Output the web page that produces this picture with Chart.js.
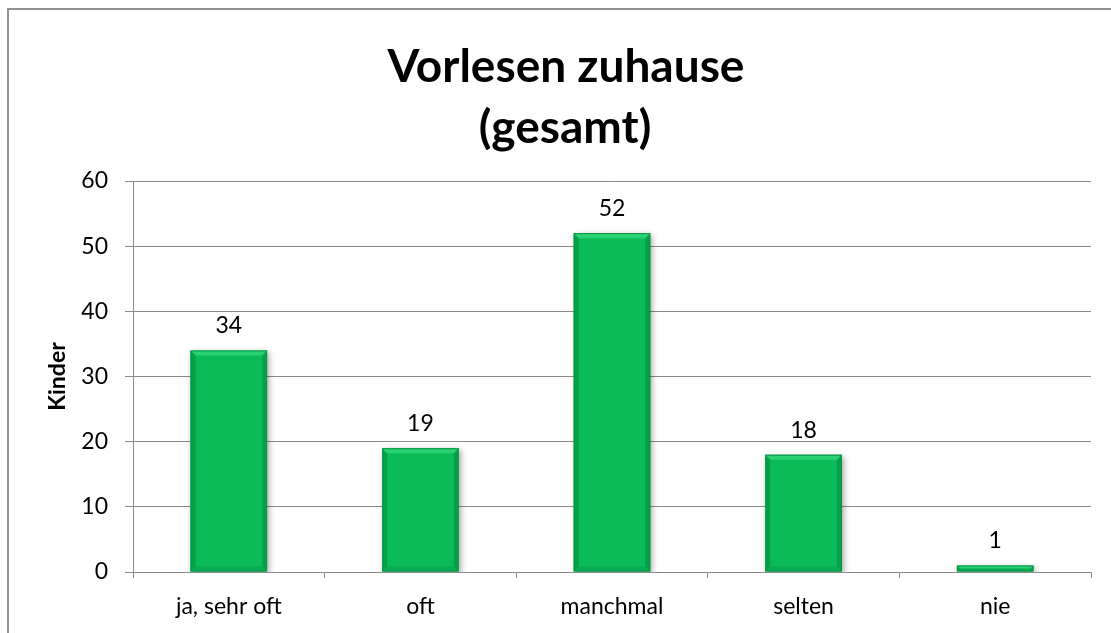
<!DOCTYPE html>
<html>
<head>
<meta charset="utf-8">
<script src="https://cdn.jsdelivr.net/npm/chart.js@4/dist/chart.umd.min.js"></script>
<style>
  html, body { margin: 0; padding: 0; background: #fff; overflow: hidden; }
  #wrap { position: relative; width: 1111px; height: 633px; overflow: hidden; }
  #frame { position: absolute; left: 7px; top: 8px; width: 1200px; height: 700px;
           border: 2px solid #8f8f8f; box-sizing: border-box; pointer-events: none; }
  canvas { position: absolute; left: 0; top: 0; }
</style>
</head>
<body>
<div id="wrap">
  <canvas id="c" width="1111" height="633"></canvas>
  <div id="frame"></div>
</div>
<script>
const titleLines = ["Vorlesen zuhause", "(gesamt)"];
const categories = ["ja, sehr oft", "oft", "manchmal", "selten", "nie"];
const values = [34, 19, 52, 18, 1];
const yTicks = [0, 10, 20, 30, 40, 50, 60];
const yAxisTitle = "Kinder";

const FONT = "Lato, 'Liberation Sans', sans-serif";

const titlePlugin = {
  id: 'twoLineTitle',
  afterDraw(chart) {
    const ctx = chart.ctx;
    ctx.save();
    ctx.fillStyle = '#000';
    ctx.font = "bold 46px " + FONT;
    ctx.textAlign = 'center';
    ctx.textBaseline = 'alphabetic';
    ctx.fillText(titleLines[0], 566, 82);
    ctx.fillText(titleLines[1], 565, 143);
    ctx.restore();
  }
};

const shadowPlugin = {
  id: 'barShadow',
  beforeDatasetDraw(chart) {
    const ctx = chart.ctx;
    ctx.save();
    ctx.shadowColor = 'rgba(0,0,0,0.35)';
    ctx.shadowBlur = 6;
    ctx.shadowOffsetX = 2;
    ctx.shadowOffsetY = 2;
  },
  afterDatasetDraw(chart) {
    chart.ctx.restore();
  }
};

// bevel effect on each bar, using the bar element geometry computed by Chart.js
const bevelPlugin = {
  id: 'bevel',
  afterDatasetsDraw(chart) {
    const ctx = chart.ctx;
    const meta = chart.getDatasetMeta(0);
    ctx.save();
    meta.data.forEach((bar) => {
      const p = bar.getProps(['x', 'y', 'base', 'width'], true);
      const l = p.x - p.width / 2, r = p.x + p.width / 2;
      const t = Math.min(p.y, p.base), b = Math.max(p.y, p.base);
      const h = b - t;
      const d = Math.min(5, h / 2, p.width / 2);
      // top (lighter)
      ctx.fillStyle = 'rgba(70,225,140,0.55)';
      ctx.beginPath();
      ctx.moveTo(l, t); ctx.lineTo(r, t); ctx.lineTo(r - d, t + d); ctx.lineTo(l + d, t + d);
      ctx.closePath(); ctx.fill();
      // sides (darker)
      ctx.fillStyle = 'rgba(0,110,50,0.35)';
      ctx.beginPath();
      ctx.moveTo(l, t); ctx.lineTo(l + d, t + d); ctx.lineTo(l + d, b - d); ctx.lineTo(l, b);
      ctx.closePath(); ctx.fill();
      ctx.beginPath();
      ctx.moveTo(r, t); ctx.lineTo(r - d, t + d); ctx.lineTo(r - d, b - d); ctx.lineTo(r, b);
      ctx.closePath(); ctx.fill();
      // bottom (slightly darker)
      ctx.fillStyle = 'rgba(0,110,50,0.2)';
      ctx.beginPath();
      ctx.moveTo(l, b); ctx.lineTo(r, b); ctx.lineTo(r - d, b - d); ctx.lineTo(l + d, b - d);
      ctx.closePath(); ctx.fill();
      // outline
      ctx.strokeStyle = '#0a9646';
      ctx.lineWidth = 1;
      ctx.strokeRect(l + 0.5, t + 0.5, p.width - 1, h - 1);
    });
    ctx.restore();
  }
};

const labelPlugin = {
  id: 'valueLabels',
  afterDatasetsDraw(chart) {
    const ctx = chart.ctx;
    const meta = chart.getDatasetMeta(0);
    ctx.save();
    ctx.fillStyle = '#000';
    ctx.font = "23px " + FONT;
    ctx.textAlign = 'center';
    ctx.textBaseline = 'alphabetic';
    meta.data.forEach((bar, i) => {
      ctx.fillText(String(values[i]), bar.x, bar.y - 17);
    });
    ctx.restore();
  }
};

new Chart(document.getElementById('c'), {
  type: 'bar',
  data: {
    labels: categories,
    datasets: [{
      data: values,
      backgroundColor: '#0bbb58',
      borderWidth: 0,
      categoryPercentage: 1.0,
      barPercentage: 0.4
    }]
  },
  options: {
    responsive: false,
    animation: false,
    devicePixelRatio: 1,
    layout: { padding: { top: 181, right: 20, bottom: 0, left: 0 } },
    plugins: {
      legend: { display: false },
      title: { display: false },
      tooltip: { enabled: false }
    },
    scales: {
      x: {
        offset: true,
        grid: {
          display: true,
          offset: true,
          drawOnChartArea: false,
          drawTicks: true,
          tickLength: 6,
          color: '#8a8a8a'
        },
        border: { display: true, color: '#8a8a8a', width: 1 },
        ticks: {
          color: '#000',
          font: { family: FONT, size: 23 },
          padding: 15,
          maxRotation: 0
        },
        afterFit(scale) { scale.height = 61; }
      },
      y: {
        min: 0,
        max: 60,
        afterBuildTicks(scale) { scale.ticks = yTicks.map(v => ({ value: v })); },
        grid: {
          color: '#8a8a8a',
          drawTicks: true,
          tickLength: 8
        },
        border: { display: true, color: '#8a8a8a', width: 1 },
        ticks: {
          color: '#000',
          font: { family: FONT, size: 23 },
          padding: 17
        },
        title: {
          display: true,
          text: yAxisTitle,
          color: '#000',
          font: { family: FONT, size: 23, weight: 'bold' },
          padding: { top: 44, bottom: 0 }
        },
        afterFit(scale) { scale.width = 133; }
      }
    }
  },
  plugins: [titlePlugin, shadowPlugin, bevelPlugin, labelPlugin]
});
</script>
</body>
</html>
